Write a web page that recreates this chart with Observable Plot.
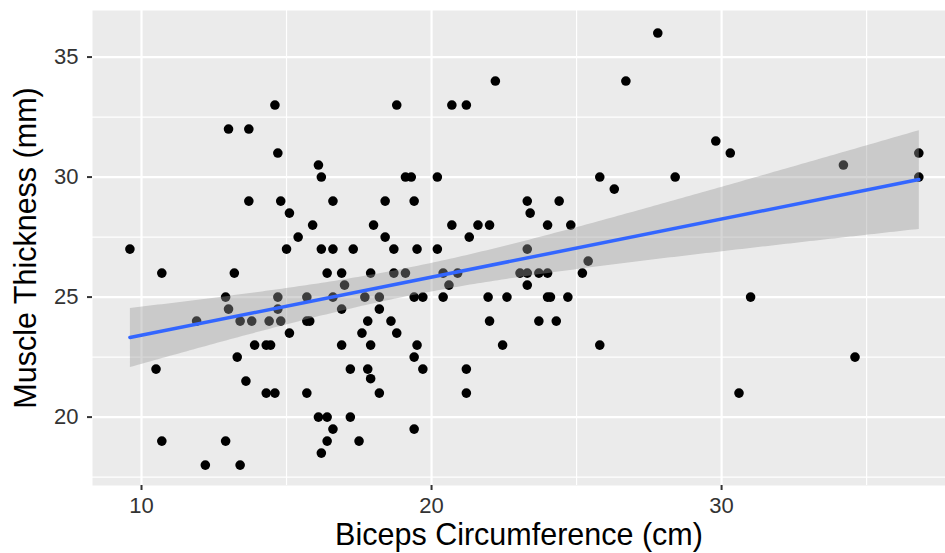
<!DOCTYPE html>
<html>
<head>
<meta charset="utf-8">
<script src="https://cdn.jsdelivr.net/npm/d3@7"></script>
<script src="https://cdn.jsdelivr.net/npm/@observablehq/plot@0.6"></script>
<style>
  html, body { margin: 0; padding: 0; background: #fff; }
  #chart svg { display: block; }
  #chart g[aria-label="x-axis tick label"], #chart g[aria-label="y-axis tick label"] { font-size: 22px; }
</style>
</head>
<body>
<div id="chart"></div>
<script>
// Biceps circumference (cm) of each subject
const biceps = [
  9.6, 10.5, 10.7, 10.7, 11.9, 12.2, 12.9, 12.9, 13.0, 13.0,
  13.2, 13.3, 13.4, 13.4, 13.6, 13.7, 13.7, 13.8, 13.9, 14.3,
  14.45, 14.3, 14.4, 14.6, 14.6, 14.7, 14.7, 14.7, 14.8, 14.8,
  15.0, 15.1, 15.1, 15.4, 15.7, 15.8, 15.7, 15.7, 15.9, 16.1,
  16.2, 16.2, 16.1, 16.4, 16.2, 16.4, 16.4, 16.6, 16.6, 16.6,
  16.6, 16.9, 16.9, 16.9, 17.0, 17.2, 17.2, 17.3, 17.5, 17.6,
  17.7, 17.8, 17.8, 17.9, 17.9, 17.9, 18.0, 18.2, 18.2, 18.2,
  18.4, 18.4, 18.6, 18.7, 18.7, 18.8, 18.8, 19.1, 19.1, 19.3,
  19.4, 19.4, 19.4, 19.4, 19.5, 19.5, 19.7, 19.7, 20.2, 20.2,
  20.4, 20.4, 20.6, 20.7, 20.7, 20.9, 21.2, 21.2, 21.2, 21.3,
  21.6, 21.95, 22.0, 22.0, 22.2, 22.45, 22.6, 23.05, 23.3, 23.3,
  23.3, 23.3, 23.4, 23.7, 23.7, 24.0, 24.0, 24.0, 24.1, 24.3,
  24.4, 24.7, 24.8, 25.2, 25.4, 25.8, 25.8, 26.3, 26.7, 27.8,
  28.4, 29.8, 30.3, 30.6, 31.0, 34.2, 34.6, 36.8, 36.8
];
// Muscle thickness (mm) of each subject
const thickness = [
  27, 22, 26, 19, 24, 18, 25, 19, 32, 24.5,
  26, 22.5, 24, 18, 21.5, 32, 29, 24, 23, 23,
  23, 21, 24, 33, 21, 31, 25, 24.5, 29, 24,
  27, 28.5, 23.5, 27.5, 24, 24, 25, 21, 28, 30.5,
  30, 27, 20, 20, 18.5, 26, 19, 29, 27, 25,
  19.5, 26, 24.5, 23, 25.5, 22, 20, 27, 19, 23.5,
  25, 24, 22, 26, 23, 21.6, 28, 25, 24.5, 21,
  29, 27.5, 24, 27, 26, 33, 23.5, 30, 26, 30,
  29, 25, 22.5, 19.5, 27, 23, 25, 22, 30, 27,
  26, 25, 25.5, 33, 28, 26, 33, 22, 21, 27.5,
  28, 25, 28, 24, 34, 23, 25, 26, 26, 29,
  27, 25.5, 28.5, 26, 24, 26, 28, 25, 25, 24,
  29, 25, 28, 26, 26.5, 30, 23, 29.5, 34, 36,
  30, 31.5, 31, 21, 25, 30.5, 22.5, 31, 30
];
const xMajor = [10, 20, 30];
const xMinor = [15, 25, 35];
const yMajor = [20, 25, 30, 35];
const yMinor = [17.5, 22.5, 27.5, 32.5];
const xDomain = [8.31, 37.72];
const yDomain = [17.15, 36.94];
const xTitle = "Biceps Circumference (cm)";
const yTitle = "Muscle Thickness (mm)";

const data = biceps.map((b, i) => ({x: b, y: thickness[i]}));

const chart = Plot.plot({
  width: 945,
  height: 553,
  marginLeft: 92,
  marginRight: 0,
  marginTop: 10,
  marginBottom: 68,
  style: {fontFamily: "'Liberation Sans', Arial, Helvetica, sans-serif", fontSize: "22px", background: "#fff", overflow: "visible"},
  x: {domain: xDomain, label: null},
  y: {domain: yDomain, label: null},
  marks: [
    Plot.frame({fill: "#EBEBEB", stroke: null}),
    Plot.gridX(xMinor, {stroke: "#fff", strokeOpacity: 1, strokeWidth: 1.2}),
    Plot.gridY(yMinor, {stroke: "#fff", strokeOpacity: 1, strokeWidth: 1.2}),
    Plot.gridX(xMajor, {stroke: "#fff", strokeOpacity: 1, strokeWidth: 2.2}),
    Plot.gridY(yMajor, {stroke: "#fff", strokeOpacity: 1, strokeWidth: 2.2}),
    Plot.dot(data, {x: "x", y: "y", r: 4.8, fill: "#000", stroke: null}),
    Plot.linearRegressionY(data, {x: "x", y: "y", stroke: "#3366FF", strokeWidth: 3.5, fill: "#999999", fillOpacity: 0.4}),
    Plot.axisX(xMajor, {tickSize: 5, tickPadding: 7, fontSize: 22, color: "#333", strokeWidth: 2, label: null}),
    Plot.axisY(yMajor, {tickSize: 5, tickPadding: 9, fontSize: 22, color: "#333", strokeWidth: 2, label: null}),
    Plot.text([xTitle], {frameAnchor: "bottom", textAnchor: "middle", lineAnchor: "middle", dy: 50, fontSize: 30.5, fill: "#000"}),
    Plot.text([yTitle], {frameAnchor: "left", textAnchor: "middle", lineAnchor: "middle", dx: -66, rotate: -90, fontSize: 30.5, fill: "#000"})
  ]
});
document.getElementById("chart").appendChild(chart);
</script>
</body>
</html>
